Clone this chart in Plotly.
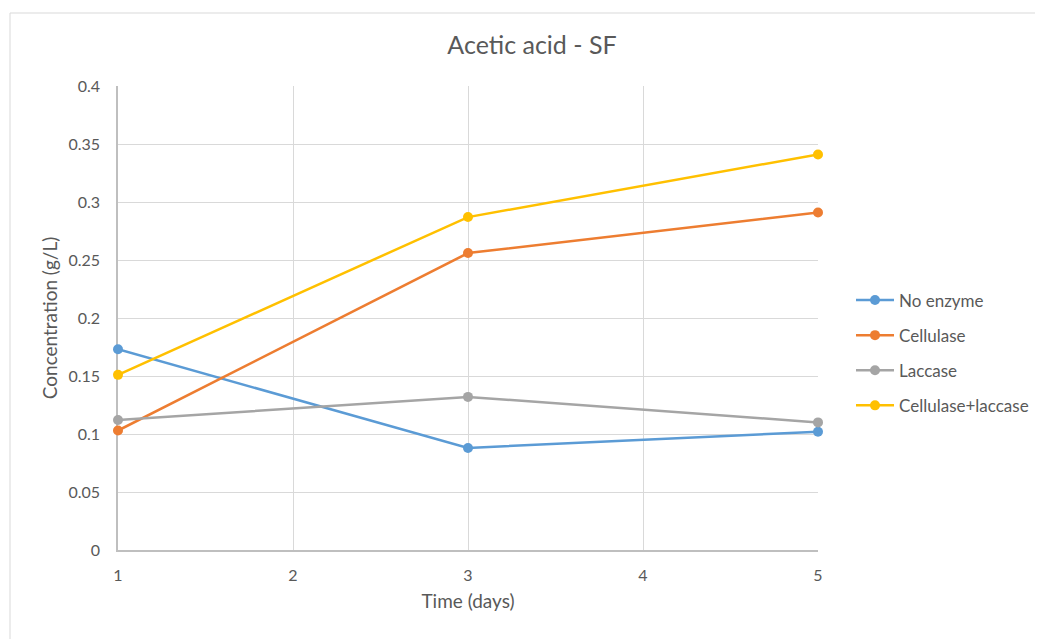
import plotly.graph_objects as go

days = [1, 3, 5]
no_enzyme = [0.173, 0.088, 0.102]
cellulase = [0.103, 0.256, 0.291]
laccase = [0.112, 0.132, 0.110]
cell_lacc = [0.151, 0.287, 0.341]

names = ["No enzyme", "Cellulase", "Laccase", "Cellulase+laccase"]
series = [no_enzyme, cellulase, laccase, cell_lacc]
colors = ["#5B9BD5", "#ED7D31", "#A5A5A5", "#FFC000"]

fig = go.Figure()
for n, s, c in zip(names, series, colors):
    fig.add_trace(go.Scatter(
        x=days, y=s, name=n, mode="lines+markers", legendgroup=n,
        line=dict(color=c, width=2.5),
        marker=dict(color=c, size=10),
        cliponaxis=False,
    ))

# page body has an 8px margin, so margins are shifted to compensate
L, T, PW, PH = 110, 78, 700, 464
font_family = "Lato, Open Sans, sans-serif"
fig.update_layout(
    width=1043, height=639,
    paper_bgcolor="white", plot_bgcolor="white",
    margin=dict(l=L, r=1043 - L - PW, t=T, b=639 - T - PH),
    title=dict(text="Acetic acid - SF", x=(532 - 8) / 1043, xanchor="center",
               y=1 - 37 / 639, yanchor="middle",
               font=dict(family=font_family, size=25, color="#595959")),
    font=dict(family=font_family, color="#595959", size=16),
    xaxis=dict(range=[1, 5], tickvals=[1, 2, 3, 4, 5], showgrid=True,
               gridcolor="#D9D9D9", gridwidth=1, zeroline=False,
               showline=True, linecolor="#BFBFBF", linewidth=1.5,
               ticks="", ticklabelstandoff=10, layer="below traces",
               tickfont=dict(size=16, color="#595959"),
               title=dict(text="Time (days)", font=dict(size=19, color="#595959"), standoff=12)),
    yaxis=dict(range=[0, 0.4], dtick=0.05, showgrid=True,
               gridcolor="#D9D9D9", gridwidth=1, zeroline=False,
               showline=True, linecolor="#BFBFBF", linewidth=1.5,
               ticks="", tickformat="~g", ticklabelstandoff=13, layer="below traces",
               tickfont=dict(size=16, color="#595959"),
               title=dict(text="Concentration (g/L)", font=dict(size=19, color="#595959"), standoff=6)),
    legend=dict(x=(847 - 4 - L) / PW, y=(T + PH - 345) / PH, xanchor="left", yanchor="middle",
                font=dict(size=17, color="#595959"), tracegroupgap=10, itemwidth=38,
                bgcolor="rgba(0,0,0,0)"),
    shapes=[dict(type="rect", xref="paper", yref="paper",
                 x0=(2 - L) / PW, x1=(1050 - L) / PW,
                 y0=(T + PH - 660) / PH, y1=(T + PH - 5) / PH,
                 line=dict(color="#D9D9D9", width=1), fillcolor="rgba(0,0,0,0)", layer="below")],
)

fig.write_html("out.html")
